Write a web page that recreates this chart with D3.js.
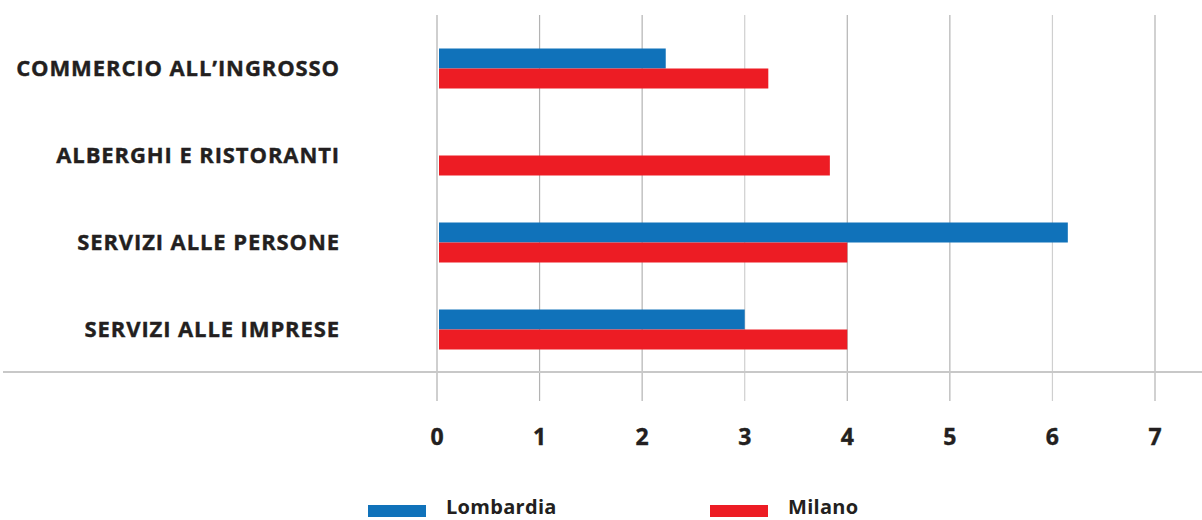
<!DOCTYPE html>
<html>
<head>
<meta charset="utf-8">
<script src="https://cdn.jsdelivr.net/npm/d3@7"></script>
<style>
  html, body { margin: 0; padding: 0; background: #fff; }
  svg { display: block; font-family: "Open Sans", "Noto Sans", sans-serif; }
</style>
</head>
<body>
<div id="chart"></div>
<script>
// ============ Data ============
const categories = ['COMMERCIO ALL\u2019INGROSSO', 'ALBERGHI E RISTORANTI', 'SERVIZI ALLE PERSONE', 'SERVIZI ALLE IMPRESE'];
const seriesNames = ['Lombardia', 'Milano'];
const lombardia = [2.23, 0, 6.15, 3.0];
const milano = [3.23, 3.83, 4.0, 4.0];
const xTicks = [0, 1, 2, 3, 4, 5, 6, 7];
const colors = ['#1072ba', '#ed1c24'];

const W = 1202, H = 520;
const x0 = 437, x7 = 1155;

const svg = d3.select('#chart').append('svg')
  .attr('width', W).attr('height', H);

// ── Scales ──
const x = d3.scaleLinear().domain([0, 7]).range([x0, x7]);
const y = d3.scaleBand().domain(categories).range([25, 373]).paddingInner(0).paddingOuter(0);
const ySub = d3.scaleBand().domain(seriesNames).range([y.bandwidth() / 2 - 20, y.bandwidth() / 2 + 20]);

// ── Gridlines ──
svg.append('g').selectAll('line')
  .data(xTicks).enter().append('line')
  .attr('x1', d => x(d)).attr('x2', d => x(d))
  .attr('y1', 15).attr('y2', 401)
  .attr('stroke', (d, i) => i % 3 === 0 ? '#cfcfcf' : '#b3b3b3')
  .attr('stroke-width', d => d === 0 ? 2 : 1.2);

// baseline
svg.append('line')
  .attr('x1', 3).attr('x2', W)
  .attr('y1', 372).attr('y2', 372)
  .attr('stroke', '#c8c8c8').attr('stroke-width', 2);

// ── Bars ──
const rows = categories.map((c, i) => ({ cat: c, values: [lombardia[i], milano[i]] }));
const rowG = svg.append('g').selectAll('g')
  .data(rows).enter().append('g')
  .attr('transform', d => `translate(0,${y(d.cat)})`);

rowG.selectAll('rect')
  .data(d => d.values.map((v, j) => ({ name: seriesNames[j], v, j })))
  .enter().append('rect')
  .filter(d => d.v > 0)
  .attr('x', x(0) + 2)
  .attr('y', d => ySub(d.name))
  .attr('width', d => x(d.v) - x(0) - 2)
  .attr('height', ySub.bandwidth())
  .attr('fill', d => colors[d.j]);

// ── Category labels ──
svg.append('g').selectAll('text')
  .data(categories).enter().append('text')
  .attr('x', 340)
  .attr('y', d => y(d) + y.bandwidth() / 2)
  .attr('dy', '0.36em')
  .attr('text-anchor', 'end')
  .attr('font-size', 22)
  .attr('font-weight', 700)
  .attr('letter-spacing', 0.9)
  .attr('fill', '#231f20')
  .attr('stroke', '#231f20')
  .attr('stroke-width', 0.4)
  .text(d => d);

// ── X axis labels ──
svg.append('g').selectAll('text')
  .data(xTicks).enter().append('text')
  .attr('x', d => x(d))
  .attr('y', 445)
  .attr('text-anchor', 'middle')
  .attr('font-size', 23)
  .attr('font-weight', 700)
  .attr('fill', '#231f20')
  .attr('stroke', '#231f20')
  .attr('stroke-width', 0.4)
  .text(d => d);

// ── Legend ──
const legendX = [368, 710];
const legend = svg.append('g').selectAll('g')
  .data(seriesNames).enter().append('g')
  .attr('transform', (d, i) => `translate(${legendX[i]},0)`);

legend.append('rect')
  .attr('x', 0).attr('y', 505)
  .attr('width', 58).attr('height', 12)
  .attr('fill', (d, i) => colors[i]);

legend.append('text')
  .attr('x', 78).attr('y', 514)
  .attr('font-size', 20)
  .attr('font-weight', 700)
  .attr('letter-spacing', 0.3)
  .attr('fill', '#231f20')
  .text(d => d);
</script>
</body>
</html>
